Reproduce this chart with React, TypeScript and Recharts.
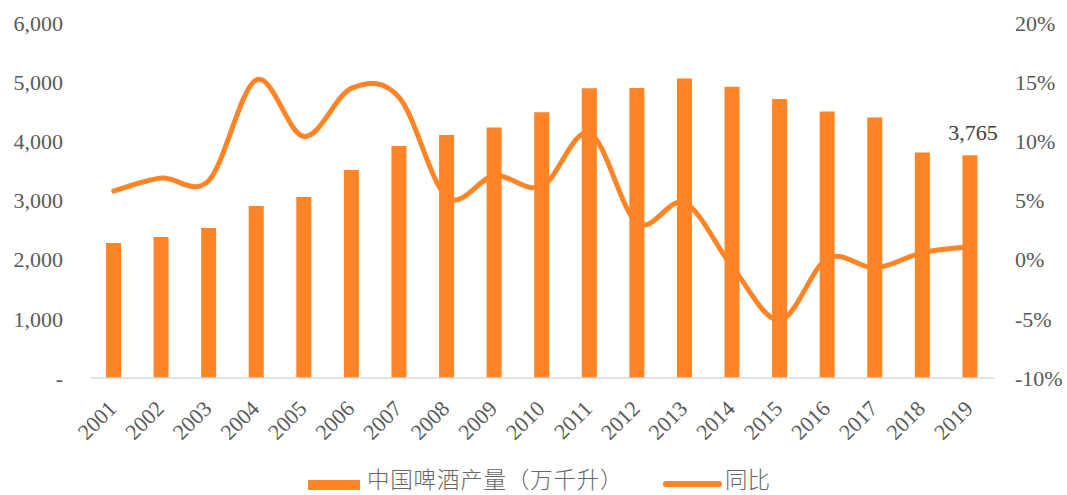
import React from 'react';
import { ComposedChart, Bar, Line, XAxis, YAxis } from 'recharts';

const years = ['2001','2002','2003','2004','2005','2006','2007','2008','2009','2010','2011','2012','2013','2014','2015','2016','2017','2018','2019'];
const production = [2280, 2385, 2535, 2905, 3060, 3515, 3920, 4105, 4235, 4490, 4899, 4902, 5062, 4922, 4716, 4506, 4401, 3812, 3765];
const yoy = [0.058, 0.069, 0.067, 0.152, 0.104, 0.145, 0.137, 0.053, 0.071, 0.062, 0.107, 0.031, 0.048, -0.006, -0.051, 0.001, -0.007, 0.006, 0.011];
const leftTicks = [0, 1000, 2000, 3000, 4000, 5000, 6000];
const rightTicks = [-0.1, -0.05, 0, 0.05, 0.1, 0.15, 0.2];
const barName = '中国啤酒产量（万千升）';
const lineName = '同比';

const data = years.map((y, i) => ({ year: y, prod: production[i], yoy: yoy[i] }));

const ORANGE = '#FF8426';
const TEXT = '#595959';
const SERIF = '"Liberation Serif", "Times New Roman", serif';
const CJK = '"Noto Sans CJK SC", "Noto Sans", sans-serif';

// Excel-like smoothed line (Catmull-Rom style Bezier)
const excelCurve = (context: any) => {
  let pts: number[][] = [];
  return {
    areaStart() {},
    areaEnd() {},
    lineStart() { pts = []; },
    lineEnd() {
      const n = pts.length;
      if (!n) return;
      context.moveTo(pts[0][0], pts[0][1]);
      for (let i = 0; i < n - 1; i++) {
        const p0 = pts[i - 1] || pts[i];
        const p1 = pts[i];
        const p2 = pts[i + 1];
        const p3 = pts[i + 2] || p2;
        context.bezierCurveTo(
          p1[0] + (p2[0] - p0[0]) / 6, p1[1] + (p2[1] - p0[1]) / 6,
          p2[0] - (p3[0] - p1[0]) / 6, p2[1] - (p3[1] - p1[1]) / 6,
          p2[0], p2[1]
        );
      }
    },
    point(x: number, y: number) { pts.push([+x, +y]); },
  };
};

const XTick = (props: any) => {
  const { x, y, payload } = props;
  const ax = x + 4;
  const ay = y + 32;
  return (
    <text x={ax} y={ay} transform={`rotate(-45, ${ax}, ${ay})`} textAnchor="end" fill={TEXT} fontSize={22} fontFamily={SERIF}>
      {payload.value}
    </text>
  );
};

const lastLabel = (props: any) => {
  const { x, y, width, index, value } = props;
  if (index !== production.length - 1) return null;
  return (
    <text x={x + width / 2 + 3} y={y - 15} textAnchor="middle" fill="#404040" fontSize={22} fontFamily={SERIF}>
      {Number(value).toLocaleString('en-US')}
    </text>
  );
};

export default function App() {
  return (
    <div style={{ position: 'absolute', left: 0, top: 0, width: 1067, height: 495, background: '#fff' }}>
      <ComposedChart width={1067} height={495} data={data} margin={{ top: 23, right: 0, bottom: 0, left: 0 }}>
        <XAxis
          dataKey="year"
          height={117}
          interval={0}
          tick={<XTick />}
          tickLine={false}
          tickSize={0}
          tickMargin={0}
          axisLine={{ stroke: '#D9D9D9', strokeWidth: 1.5 }}
        />
        <YAxis
          yAxisId="left"
          width={90}
          domain={[0, 6000]}
          ticks={leftTicks}
          interval={0}
          axisLine={false}
          tickLine={false}
          tickSize={0}
          tickMargin={27}
          tick={{ fill: TEXT, fontSize: 22, fontFamily: SERIF }}
          tickFormatter={(v: number) => (v === 0 ? '-' : v.toLocaleString('en-US'))}
        />
        <YAxis
          yAxisId="right"
          orientation="right"
          width={73}
          domain={[-0.1, 0.2]}
          ticks={rightTicks}
          interval={0}
          axisLine={false}
          tickLine={false}
          tickSize={0}
          tickMargin={21}
          tick={{ fill: TEXT, fontSize: 22, fontFamily: SERIF, textAnchor: 'start' }}
          tickFormatter={(v: number) => `${Math.round(v * 100)}%`}
        />
        <Bar yAxisId="left" dataKey="prod" name={barName} fill={ORANGE} barSize={15} isAnimationActive={false} label={lastLabel} />
        <Line
          yAxisId="right"
          dataKey="yoy"
          name={lineName}
          type={excelCurve as any}
          stroke={ORANGE}
          strokeWidth={5}
          strokeLinecap="round"
          dot={false}
          activeDot={false}
          isAnimationActive={false}
        />
      </ComposedChart>
      <div style={{ position: 'absolute', left: 0, top: 462, width: 1067, height: 32, fontFamily: CJK, fontSize: 22.5, color: '#666666', fontWeight: 300 }}>
        <div style={{ position: 'absolute', left: 308, top: 18, width: 52, height: 10, background: ORANGE }} />
        <div style={{ position: 'absolute', left: 367, top: 0, height: 32, lineHeight: '32px', whiteSpace: 'nowrap', letterSpacing: 0.8 }}>{barName}</div>
        <div style={{ position: 'absolute', left: 663, top: 19, width: 59, height: 6, borderRadius: 3, background: ORANGE }} />
        <div style={{ position: 'absolute', left: 725, top: 0, height: 32, lineHeight: '32px', whiteSpace: 'nowrap' }}>{lineName}</div>
      </div>
    </div>
  );
}
